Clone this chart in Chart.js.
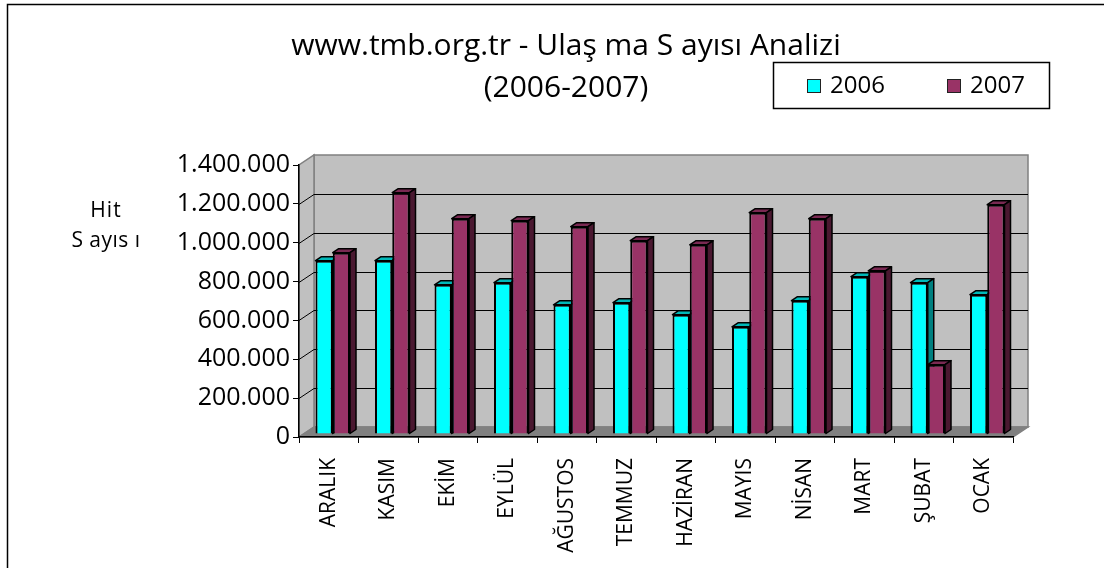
<!DOCTYPE html>
<html>
<head>
<meta charset="utf-8">
<script src="https://cdn.jsdelivr.net/npm/chart.js@4/dist/chart.umd.min.js"></script>
<style>
  body { margin: 0; background: #fff; }
  canvas { display: block; }
</style>
</head>
<body>
<canvas id="chart" width="1104" height="568"></canvas>
<script>
const months = ['ARALIK', 'KASIM', 'EKİM', 'EYLÜL', 'AĞUSTOS', 'TEMMUZ', 'HAZİRAN', 'MAYIS', 'NİSAN', 'MART', 'ŞUBAT', 'OCAK']
const hits2006 = [892000, 892000, 768000, 779000, 665000, 676000, 614000, 552000, 686000, 810000, 779000, 717000]
const hits2007 = [933000, 1242000, 1108000, 1098000, 1067000, 995000, 974000, 1139000, 1108000, 840000, 357000, 1180000]
const titleLines = ['www.tmb.org.tr - Ulaş ma S ayısı Analizi', '(2006-2007)']
const yTitleLines = ['Hit', 'S ayıs ı']

const FONT = '"Open Sans", "Noto Sans", sans-serif'

// 3d look: wall depth and bar depth
const WALL_DX = 15, WALL_DY = -10
const BAR_OX = 4, BAR_OY = -3
const BAR_DX = 6, BAR_DY = -4

// face colours per series: [top, side]
const faces = [['#00b8b8', '#008080'], ['#7a2952', '#4a1830']]

function dots(v) {
  return String(v).replace(/\B(?=(\d{3})+(?!\d))/g, '.')
}

const threeD = {
  id: 'threeD',
  beforeDraw(chart) {
    const ctx = chart.ctx
    const a = chart.chartArea
    const y = chart.scales.y
    const L = a.left, R = a.right, B = a.bottom, T = a.top

    ctx.save()
    // outer frame
    ctx.strokeStyle = '#000'
    ctx.lineWidth = 1.5
    ctx.strokeRect(7.5, 4.5, 1200, 700)

    ctx.strokeStyle = '#808080'
    ctx.lineWidth = 1.5
    // back wall
    ctx.fillStyle = '#c0c0c0'
    ctx.fillRect(L + WALL_DX, T + WALL_DY, R - L, B - T)
    ctx.strokeRect(L + WALL_DX, T + WALL_DY, R - L, B - T)
    // left wall
    ctx.beginPath()
    ctx.moveTo(L, B)
    ctx.lineTo(L + WALL_DX, B + WALL_DY)
    ctx.lineTo(L + WALL_DX, T + WALL_DY)
    ctx.lineTo(L, T)
    ctx.closePath()
    ctx.fill()
    ctx.stroke()
    // floor
    ctx.fillStyle = '#808080'
    ctx.beginPath()
    ctx.moveTo(L, B)
    ctx.lineTo(R, B)
    ctx.lineTo(R + WALL_DX, B + WALL_DY)
    ctx.lineTo(L + WALL_DX, B + WALL_DY)
    ctx.closePath()
    ctx.fill()
    ctx.stroke()

    // gridlines on the walls
    ctx.strokeStyle = '#000'
    ctx.lineWidth = 1
    y.ticks.forEach(t => {
      if (t.value <= y.min || t.value >= y.max) return
      const py = Math.round(y.getPixelForValue(t.value)) + 0.5
      ctx.beginPath()
      ctx.moveTo(L, py)
      ctx.lineTo(L + WALL_DX, py + WALL_DY)
      ctx.lineTo(R + WALL_DX, py + WALL_DY)
      ctx.stroke()
    })
    ctx.restore()
  },
  beforeDatasetsDraw(chart) {
    const ctx = chart.ctx
    ctx.save()
    ctx.translate(BAR_OX, BAR_OY)
    ctx.strokeStyle = '#000'
    ctx.lineWidth = 1.5
    ctx.lineJoin = 'round'
    chart.data.datasets.forEach((ds, i) => {
      chart.getDatasetMeta(i).data.forEach(bar => {
        const x0 = bar.x - bar.width / 2, x1 = bar.x + bar.width / 2
        const top = bar.y, base = bar.base
        // top face
        ctx.fillStyle = faces[i][0]
        ctx.beginPath()
        ctx.moveTo(x0, top)
        ctx.lineTo(x1, top)
        ctx.lineTo(x1 + BAR_DX, top + BAR_DY)
        ctx.lineTo(x0 + BAR_DX, top + BAR_DY)
        ctx.closePath()
        ctx.fill()
        ctx.stroke()
        // side face
        ctx.fillStyle = faces[i][1]
        ctx.beginPath()
        ctx.moveTo(x1, top)
        ctx.lineTo(x1 + BAR_DX, top + BAR_DY)
        ctx.lineTo(x1 + BAR_DX, base + BAR_DY)
        ctx.lineTo(x1, base)
        ctx.closePath()
        ctx.fill()
        ctx.stroke()
      })
    })
    // front faces are drawn by the bar controller with the same offset
  },
  afterDatasetsDraw(chart) {
    chart.ctx.restore()
  },
  afterDraw(chart) {
    const ctx = chart.ctx
    ctx.save()
    ctx.fillStyle = '#000'
    ctx.textBaseline = 'middle'
    ctx.textAlign = 'center'

    // title
    ctx.font = '30px ' + FONT
    ctx.fillText(titleLines[0], 566, 46)
    ctx.fillText(titleLines[1], 566, 88)

    // y axis title
    ctx.font = '21px ' + FONT
    ctx.letterSpacing = '1px'
    ctx.fillText(yTitleLines[0], 106, 211)
    ctx.letterSpacing = '0.5px'
    ctx.fillText(yTitleLines[1], 106, 241)
    ctx.letterSpacing = '0px'

    // legend
    ctx.strokeStyle = '#000'
    ctx.lineWidth = 1.5
    ctx.strokeRect(773.5, 62.5, 276, 46)
    ctx.font = '24px ' + FONT
    ctx.textAlign = 'left'
    const xs = [807, 947]
    chart.data.datasets.forEach((ds, i) => {
      ctx.fillStyle = ds.backgroundColor
      ctx.fillRect(xs[i], 79, 14, 14)
      ctx.lineWidth = 1
      ctx.strokeStyle = '#222'
      ctx.strokeRect(xs[i] + 0.5, 79.5, 13, 13)
      ctx.fillStyle = '#000'
      ctx.fillText(ds.label, xs[i] + 23, 86)
    })
    ctx.restore()
  }
}

Chart.defaults.color = '#000'
Chart.defaults.font.family = FONT

new Chart(document.getElementById('chart'), {
  type: 'bar',
  data: {
    labels: months,
    datasets: [
      { label: '2006', data: hits2006, backgroundColor: '#00ffff' },
      { label: '2007', data: hits2007, backgroundColor: '#993366' }
    ]
  },
  options: {
    responsive: false,
    animation: false,
    layout: { padding: { top: 165, right: 91, bottom: 0, left: 0 } },
    datasets: {
      bar: {
        borderColor: '#000',
        borderWidth: 2,
        categoryPercentage: 0.58,
        barPercentage: 1.0
      }
    },
    plugins: {
      legend: { display: false },
      title: { display: false },
      tooltip: { enabled: false }
    },
    scales: {
      x: {
        afterFit: s => { s.height = 131 },
        grid: { drawOnChartArea: false, drawTicks: true, tickLength: 6, color: '#000', offset: true },
        border: { color: '#000', width: 1.5 },
        ticks: {
          autoSkip: false,
          minRotation: 90,
          maxRotation: 90,
          padding: 15,
          font: { size: 21 }
        }
      },
      y: {
        min: 0,
        max: 1400000,
        afterFit: s => { s.width = 299 },
        grid: { drawOnChartArea: false, drawTicks: true, tickLength: 6, color: '#000' },
        border: { color: '#000', width: 1.5 },
        ticks: {
          stepSize: 200000,
          padding: 3,
          font: { size: 25 },
          callback: v => dots(v)
        }
      }
    }
  },
  plugins: [threeD]
})
</script>
</body>
</html>
